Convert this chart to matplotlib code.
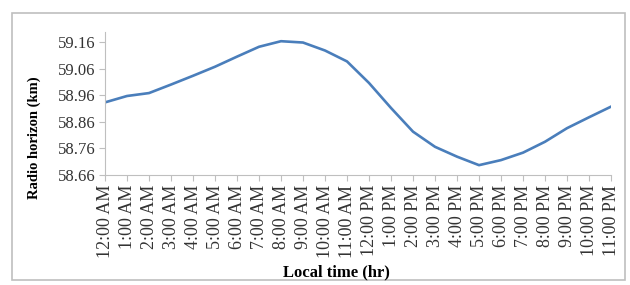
import matplotlib.pyplot as plt
from matplotlib.patches import Rectangle

plt.rcParams['font.family'] = ['Liberation Serif', 'DejaVu Serif']

hours = ['12:00 AM', '1:00 AM', '2:00 AM', '3:00 AM', '4:00 AM', '5:00 AM',
         '6:00 AM', '7:00 AM', '8:00 AM', '9:00 AM', '10:00 AM', '11:00 AM',
         '12:00 PM', '1:00 PM', '2:00 PM', '3:00 PM', '4:00 PM', '5:00 PM',
         '6:00 PM', '7:00 PM', '8:00 PM', '9:00 PM', '10:00 PM', '11:00 PM']
horizon = [58.933, 58.957, 58.968, 59.000, 59.033, 59.067,
           59.105, 59.142, 59.163, 59.158, 59.128, 59.087,
           59.006, 58.912, 58.823, 58.766, 58.729, 58.697,
           58.716, 58.744, 58.785, 58.836, 58.877, 58.917]
yticks = [58.66, 58.76, 58.86, 58.96, 59.06, 59.16]

fig = plt.figure(figsize=(6.3, 2.85), dpi=100)
fig.patches.append(Rectangle((12/630, 5/285), 613/630, 267/285, transform=fig.transFigure,
                             fill=False, edgecolor='#bfbfbf', linewidth=1.2))
ax = fig.add_axes([105/630, 110/285, 506/630, 143/285])

x = list(range(len(hours)))
ax.plot(x, horizon, color='#4a7ebb', linewidth=1.9)

ax.set_xlim(0, len(hours) - 1)
ax.set_ylim(58.66, 59.1976)
ax.set_yticks(yticks)
ax.set_yticklabels(['%.2f' % v for v in yticks])
ax.set_xticks(x)
ax.set_xticklabels(hours, rotation=90)

for s in ['top', 'right']:
    ax.spines[s].set_visible(False)
for s in ['left', 'bottom']:
    ax.spines[s].set_color('#bfbfbf')
ax.tick_params(axis='both', colors='#bfbfbf', length=4, labelcolor='#333333')
ax.tick_params(axis='y', labelsize=12, pad=3)
ax.tick_params(axis='x', labelsize=13, pad=3)

fig.text(34/630, 1 - 138/285, 'Radio horizon (km)', rotation=90, ha='center', va='center',
         fontsize=10.5, fontweight='bold')
fig.text(336/630, 1 - 272/285, 'Local time (hr)', ha='center', va='center',
         fontsize=12, fontweight='bold')

fig.savefig('out.png', dpi=100)
